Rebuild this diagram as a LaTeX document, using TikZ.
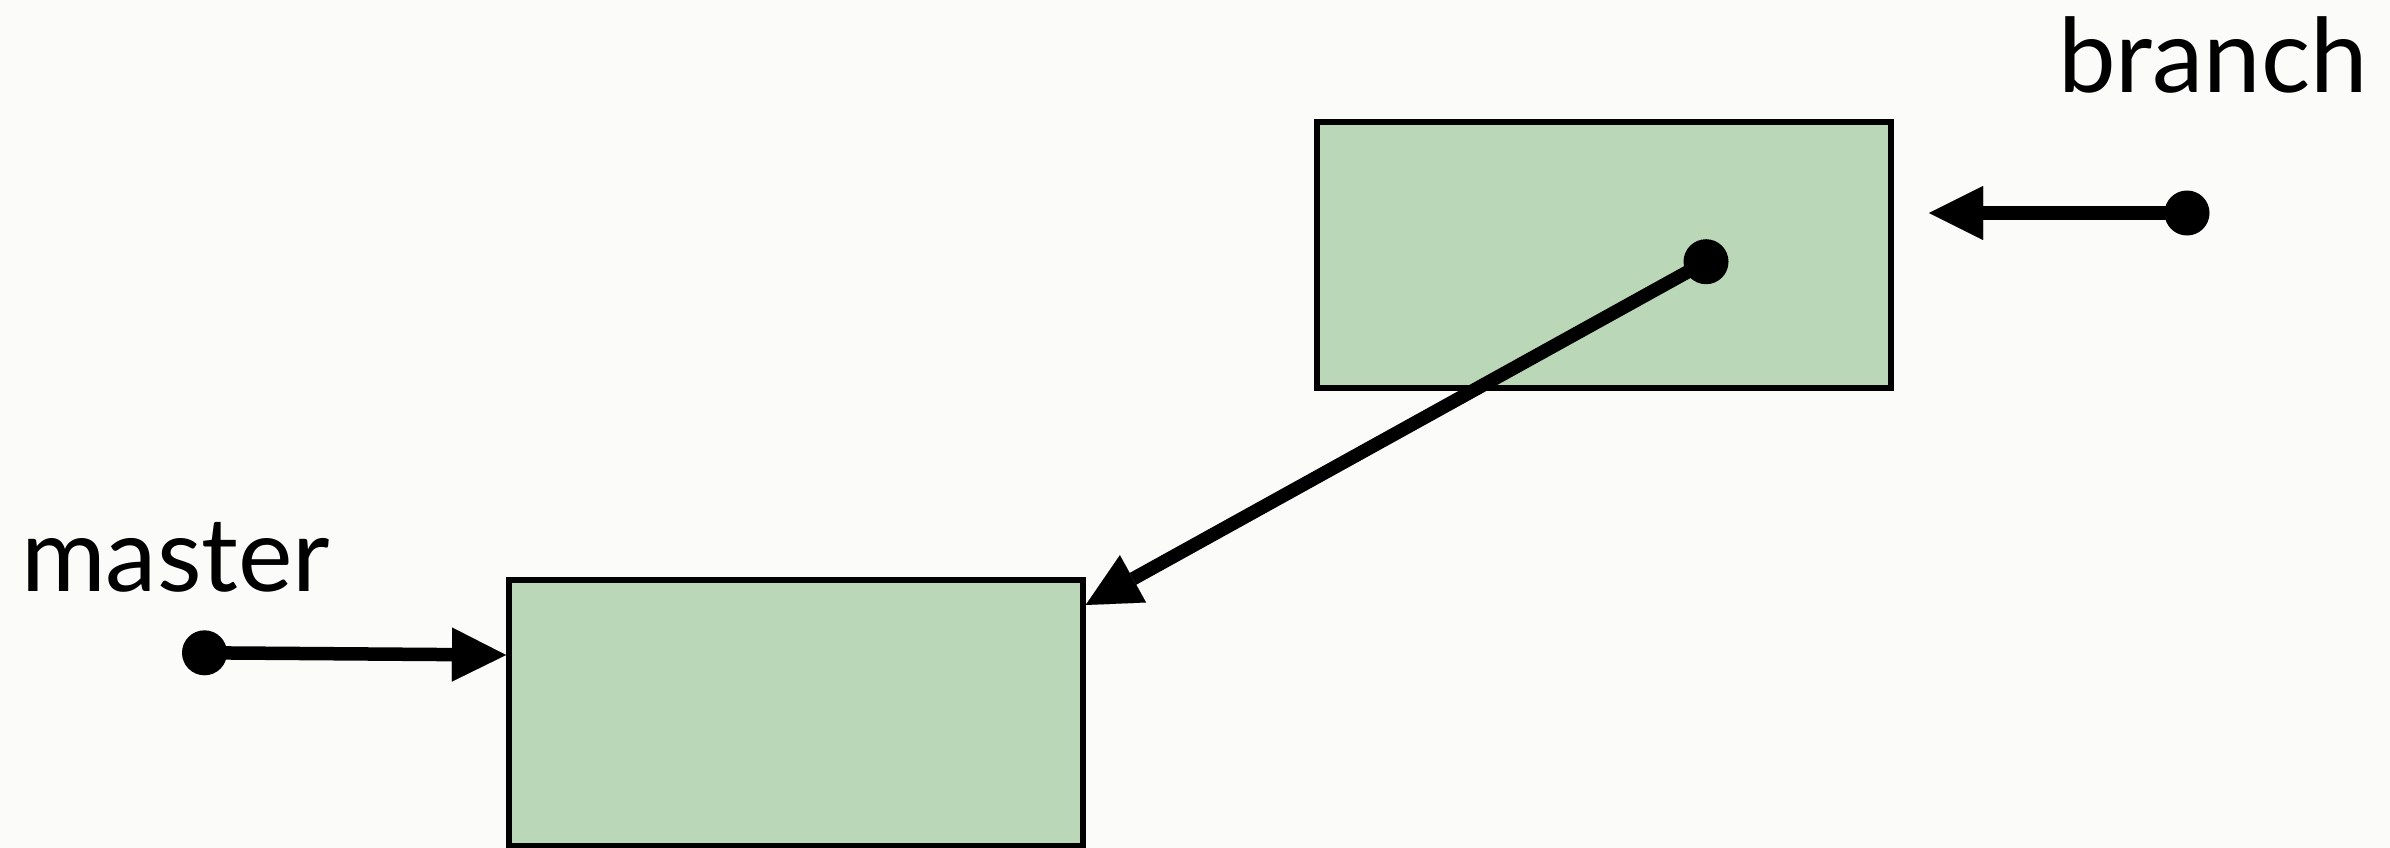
\documentclass[tikz,border=0pt]{standalone}
\usepackage{fontspec}
\setmainfont{Lato}
\usetikzlibrary{arrows.meta}
\definecolor{bgcol}{RGB}{251,251,250}
\definecolor{boxfill}{RGB}{186,216,183}
\tikzset{
  commit/.style={draw=black, line width=5.5pt, fill=boxfill, rectangle,
    minimum width=574pt, minimum height=266pt, inner sep=0pt, outer sep=0pt},
  refdot/.style={circle, fill=black, draw=none, minimum size=45pt, inner sep=0pt},
  conn/.style={draw=black, line width=13.5pt,
    -{Triangle[length=54pt,width=54pt,line width=0.01pt]}},
  reflabel/.style={anchor=base west, inner sep=0pt, font=\fontsize{103}{115}\selectfont}
}
\begin{document}
\begin{tikzpicture}[x=1pt,y=-1pt]
\path[use as bounding box, fill=bgcol] (0,0) rectangle (2390,848);
% commits
\node[commit] (c1) at (1604,255.2) {};
\node[commit] (c2) at (795.8,713) {};
% labels
\node[reflabel] (lb) at (2058,93) {branch};
\node[reflabel] (lm) at (21,591.5) {master};
% dots
\node[refdot] (db) at (2187,213) {};
\node[refdot] (dm) at (204.5,652.8) {};
\node[refdot] (dh) at (1706,261.7) {};
% arrow tips
\coordinate (tb) at (1929,213);
\coordinate (tm) at (506,655);
\coordinate (th) at (1085.7,605);
% connectors
\draw[conn] (db.center) -- (tb);
\draw[conn] (dm.center) -- (tm);
\draw[conn] (dh.center) -- (th);
\end{tikzpicture}
\end{document}
